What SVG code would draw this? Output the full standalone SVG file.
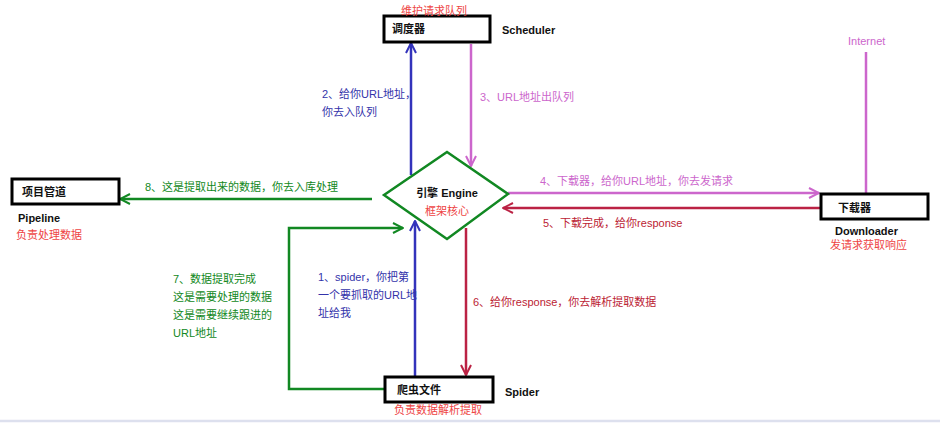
<svg xmlns="http://www.w3.org/2000/svg" width="940" height="423" viewBox="0 0 940 423">
<style>
text{font-family:"Liberation Sans","Noto Sans CJK SC",sans-serif;font-size:11px}
.box{fill:#fff;stroke:#000;stroke-width:3}
.k{fill:#111;font-weight:bold}
.r{fill:#ee4444}
.b{fill:#3333aa}.p{fill:#cc66cc}.g{fill:#118822}.d{fill:#bb2233}
.lb{stroke:#3333bb}.lp{stroke:#cc66cc}.lg{stroke:#118822}.ld{stroke:#bb2244}
line,polyline{fill:none;stroke-width:2.5}
</style>
<defs>
<marker id="ab" viewBox="0 0 12 12" refX="11" refY="6" markerWidth="12" markerHeight="12" markerUnits="userSpaceOnUse" orient="auto"><path d="M1,1 L11,6 L1,11" fill="none" stroke="#3333bb" stroke-width="2"/></marker>
<marker id="ap" viewBox="0 0 12 12" refX="11" refY="6" markerWidth="12" markerHeight="12" markerUnits="userSpaceOnUse" orient="auto"><path d="M1,1 L11,6 L1,11" fill="none" stroke="#cc66cc" stroke-width="2"/></marker>
<marker id="ag" viewBox="0 0 12 12" refX="11" refY="6" markerWidth="12" markerHeight="12" markerUnits="userSpaceOnUse" orient="auto"><path d="M1,1 L11,6 L1,11" fill="none" stroke="#118822" stroke-width="2"/></marker>
<marker id="ad" viewBox="0 0 12 12" refX="11" refY="6" markerWidth="12" markerHeight="12" markerUnits="userSpaceOnUse" orient="auto"><path d="M1,1 L11,6 L1,11" fill="none" stroke="#bb2244" stroke-width="2"/></marker>
</defs>
<rect width="940" height="423" fill="#fff"/>
<line x1="0" y1="421" x2="940" y2="421" stroke="#dde0ee" stroke-width="3"/>
<g id="connectors">
<line class="lb" x1="411" y1="175" x2="411" y2="43" marker-end="url(#ab)"/>
<line class="lp" x1="471" y1="44" x2="471" y2="166" marker-end="url(#ap)"/>
<line class="lg" x1="372" y1="199" x2="120" y2="199" marker-end="url(#ag)"/>
<line class="lp" x1="508" y1="193" x2="819" y2="193" marker-end="url(#ap)"/>
<line class="lp" x1="866" y1="52" x2="866" y2="193" stroke-width="2"/>
<line class="ld" x1="821" y1="208" x2="503" y2="208" marker-end="url(#ad)"/>
<line class="ld" x1="466" y1="228" x2="466" y2="375" marker-end="url(#ad)"/>
<line class="lb" x1="415" y1="377" x2="415" y2="221" marker-end="url(#ab)"/>
<polyline class="lg" points="384,389 289,389 289,228 403,228" marker-end="url(#ag)"/>
<text class="b" x="322" y="98">2、给你URL地址，</text>
<text class="b" x="322" y="116">你去入队列</text>
<text class="p" x="480" y="101">3、URL地址出队列</text>
<text class="g" x="145" y="191">8、这是提取出来的数据，你去入库处理</text>
<text class="p" x="540" y="185">4、下载器，给你URL地址，你去发请求</text>
<text class="d" x="543" y="227">5、下载完成，给你response</text>
<text class="d" x="473" y="306">6、给你response，你去解析提取数据</text>
<text class="b" x="318" y="281">1、spider，你把第</text>
<text class="b" x="318" y="299">一个要抓取的URL地</text>
<text class="b" x="318" y="317">址给我</text>
<text class="g" x="173" y="283">7、数据提取完成</text>
<text class="g" x="173" y="301">这是需要处理的数据</text>
<text class="g" x="173" y="319">这是需要继续跟进的</text>
<text class="g" x="173" y="337">URL地址</text>
</g>
<g id="scheduler">
<rect class="box" x="384" y="16" width="106" height="26"/>
<text class="k" x="392" y="33">调度器</text>
<text class="k" x="502" y="34">Scheduler</text>
<text class="r" x="401" y="15">维护请求队列</text>
</g>
<g id="engine">
<polygon points="447,152 508,194 447,239 384,195" fill="#fff" stroke="#118822" stroke-width="2.5"/>
<text class="k" x="447" y="197" text-anchor="middle">引擎 Engine</text>
<text class="r" x="447" y="215" text-anchor="middle">框架核心</text>
</g>
<g id="pipeline">
<rect class="box" x="12" y="179" width="107" height="25"/>
<text class="k" x="22" y="196">项目管道</text>
<text class="k" x="18" y="222">Pipeline</text>
<text class="r" x="16" y="239">负责处理数据</text>
</g>
<g id="downloader">
<rect class="box" x="821" y="194" width="107" height="25"/>
<text class="k" x="838" y="212">下载器</text>
<text class="k" x="835" y="235">Downloader</text>
<text class="r" x="830" y="249">发请求获取响应</text>
<text class="p" x="848" y="45">Internet</text>
</g>
<g id="spider">
<rect class="box" x="385" y="377" width="108" height="25"/>
<text class="k" x="397" y="394">爬虫文件</text>
<text class="k" x="505" y="396">Spider</text>
<text class="r" x="394" y="414">负责数据解析提取</text>
</g>
</svg>
